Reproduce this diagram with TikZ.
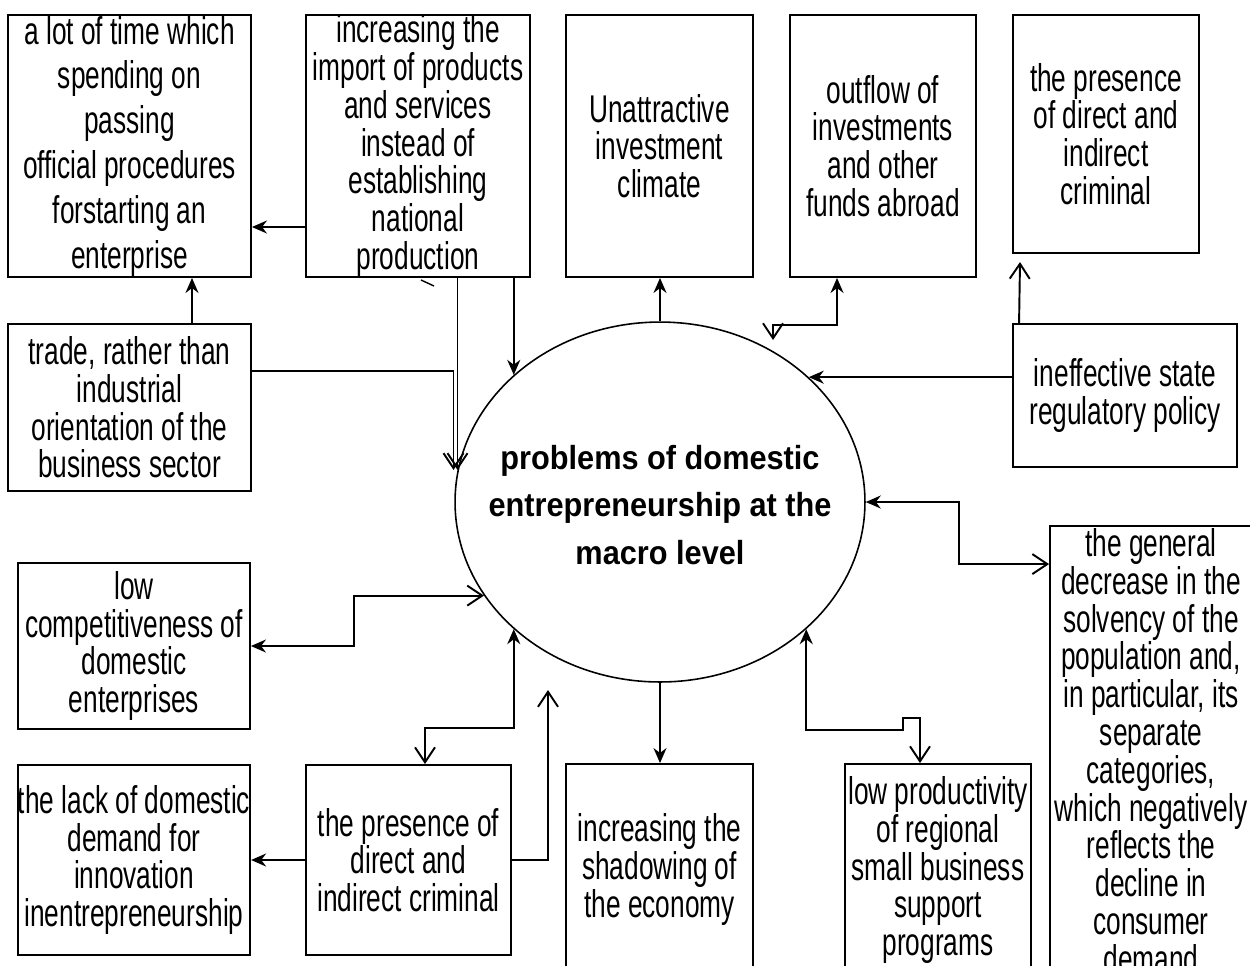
\documentclass[tikz,border=0pt]{standalone}
\usepackage{fontspec}
\setmainfont{Liberation Sans}[FakeStretch=0.68]
\newfontfamily\hubfont{Liberation Sans}[FakeStretch=0.92]
\usetikzlibrary{shapes.geometric, arrows.meta, calc}

\begin{document}
\begin{tikzpicture}[
    x=0.02cm, y=-0.02cm,
    >={Stealth[length=0.3cm, width=0.26cm]},
    base/.style={draw, align=center, inner sep=0pt, line width=1.1pt},
    cause/.style={base, rectangle, font=\fontsize{22}{21.5}\selectfont},
    hub/.style={base, ellipse, line width=0.9pt, minimum width=8.2cm, minimum height=7.2cm},
    hubtext/.style={align=center, inner sep=0pt, font=\hubfont\bfseries\fontsize{19}{27.2}\selectfont},
    arrow/.style={->, line width=1.1pt},
    oarrow/.style={-{Straight Barb[length=0.3cm, width=0.4cm]}, line width=1.1pt},
    twoway/.style={<-{Straight Barb[length=0.3cm, width=0.4cm]}, line width=1.1pt}
  ]
    \useasboundingbox (0,0) rectangle (1250,965);
    \fill[white] (0,0) rectangle (1250,965);
    \clip (0,0) rectangle (1250,965);
    % top row
    \node[cause, minimum width=4.86cm, minimum height=5.24cm, font=\fontsize{22}{25.5}\selectfont] (time) at (129.5,146)
    {a lot of time which\\ spending on\\ passing\\ official procedures\\ forstarting an\\ enterprise};
    \node[cause, minimum width=4.48cm, minimum height=5.24cm] (import) at (418,146)
    {increasing the\\ import of products\\ and services\\ instead of\\ establishing\\ national\\ production};
    \node[cause, minimum width=3.74cm, minimum height=5.24cm] (climate) at (659.5,146)
    {Unattractive\\ investment\\ climate};
    \node[cause, minimum width=3.72cm, minimum height=5.24cm] (outflow) at (883,146)
    {outflow of\\ investments\\ and other\\ funds abroad};
    \node[cause, minimum width=3.72cm, minimum height=4.76cm] (crimtop) at (1106,134)
    {the presence\\ of direct and\\ indirect\\ criminal};
    % middle row
    \node[cause, minimum width=4.86cm, minimum height=3.34cm] (trade) at (129.5,407.5)
    {trade, rather than\\ industrial\\ orientation of the\\ business sector};
    \node[cause, minimum width=4.48cm, minimum height=2.86cm] (policy) at (1125,395.5)
    {ineffective state\\ regulatory policy};
    \node[cause, minimum width=4.64cm, minimum height=3.32cm] (compet) at (134,646)
    {low\\ competitiveness of\\ domestic\\ enterprises};
    % bottom row
    \node[cause, minimum width=4.64cm, minimum height=3.8cm] (demand) at (134,860)
    {the lack of domestic\\ demand for\\ innovation\\ inentrepreneurship};
    \node[cause, minimum width=4.1cm, minimum height=3.8cm] (crimbot) at (408.5,860)
    {the presence of\\ direct and\\ indirect criminal};
    \node[cause, minimum width=3.74cm, minimum height=4.22cm] (shadow) at (659.5,869.5)
    {increasing the\\ shadowing of\\ the economy};
    \node[cause, minimum width=3.72cm, minimum height=4.24cm] (support) at (938,870)
    {low productivity\\ of regional\\ small business\\ support\\ programs};
    \node[cause, minimum width=4.04cm, minimum height=8.98cm] (solvency) at (1151,750.5)
    {the general\\ decrease in the\\ solvency of the\\ population and,\\ in particular, its\\ separate\\ categories,\\ which negatively\\ reflects the\\ decline in\\ consumer\\ demand};
    % centre
    \node[hub] (prob) at (660,502) {};
    \node[hubtext] (probtext) at ($(prob.center)+(0,3)$)
    {problems of domestic\\ entrepreneurship at the\\ macro level};
    % connectors
    \draw[arrow] ($(import.west)+(0,81)$) -- ($(time.east)+(0,81)$);
    \draw[arrow] ($(trade.north)+(62.5,0)$) -- ($(time.south)+(62.5,0)$);
    \draw[arrow] (prob.139 |- import.south) -- (prob.139);
    \draw[oarrow] (prob.171 |- import.south) -- (prob.171);
    \draw[oarrow] ($(trade.east)+(0,-36.5)$) -| ($(prob.171)+(-4,0)$);
    \draw[arrow] (prob.north) -- (prob.north |- climate.south);
    \coordinate (outtip) at (773,340);
    \draw[twoway] ($(outflow.south)+(-46,0)$) -- ++(0,47) -| (outtip);
    \draw[arrow] (policy.west |- prob.40) -- (prob.40);
    \coordinate (crimtip) at (1020,262);
    \draw[oarrow] ($(policy.north west)+(7,0)$) -- (crimtip);
    \draw[twoway] (prob.east) -- ++(93,0) |- ($(solvency.north west)+(0,39)$);
    \draw[twoway] (compet.east) -- ++(103,0) |- (prob.208);
    \draw[twoway] (prob.221) -- ++(0,99) -| ($(crimbot.north)+(16.5,0)$);
    \draw[arrow] (crimbot) -- (demand);
    \coordinate (shadowtip) at (548,690);
    \draw[oarrow] (crimbot.east) -| (shadowtip);
    \draw[arrow] (prob.south) -- (prob.south |- shadow.north);
    \draw[twoway] (prob.319) -- ++(0,101) -| ++(97,-12) -| ($(support.north)+(-18,0)$);
    \draw[line width=0.8pt] (421,280) -- (434,286);
\end{tikzpicture}
\end{document}
